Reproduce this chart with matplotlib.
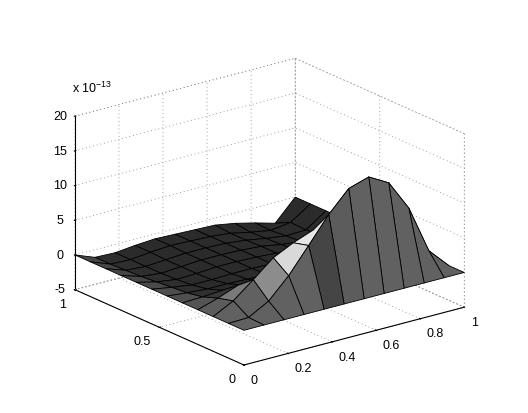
import numpy as np
import matplotlib
matplotlib.use("Agg")
import matplotlib.pyplot as plt

plt.rcParams['font.family'] = ['Liberation Sans', 'DejaVu Sans']
plt.rcParams['mathtext.fontset'] = 'custom'
plt.rcParams['mathtext.rm'] = 'Liberation Sans'
plt.rcParams['mathtext.default'] = 'rm'

x_nodes = [i / 11 for i in range(12)]
y_nodes = [j / 11 for j in range(12)]
# height (units of 1e-13); rows are x index, columns are y index
heights = [
 [0,0,0,0,0,0,0,0,0,0,0,0],
 [0,0.1,1.5,0.9,0.1,-0.3,-0.5,-0.7,-0.9,-1.0,-1.1,-1.1],
 [0,1.7,3.8,2.0,0.3,-0.5,-0.9,-1.1,-1.2,-1.2,-1.2,-1.2],
 [0,4.6,6.2,2.2,0.3,-0.5,-0.9,-1.0,-1.0,-1.0,-0.9,-0.9],
 [0,8.2,7.6,1.5,0.1,-0.6,-0.8,-0.8,-0.8,-0.8,-0.7,-0.7],
 [0,11.9,8.7,1.0,-0.2,-0.7,-0.8,-0.8,-0.8,-0.8,-0.8,-0.8],
 [0,14.9,8.0,0.8,-0.4,-0.8,-0.9,-0.9,-0.9,-0.9,-0.9,-0.9],
 [0,15.8,7.0,0.6,-0.6,-1.0,-1.1,-1.1,-1.1,-1.2,-1.2,-1.0],
 [0,14.2,5.0,0.4,-0.8,-1.2,-1.4,-1.5,-1.6,-1.7,-1.8,-1.5],
 [0,9.8,3.0,0.2,-0.8,-1.2,-1.5,-1.7,-1.9,-2.1,-2.3,-2.2],
 [0,2.9,1.0,0.0,-0.6,-1.0,-1.3,-1.5,-1.7,-2.0,-1.9,-3.0],
 [0,0,0,0,0,0,0,0,0,0,0,0],
]
# gray level of each facet, rows x index, columns y index
face_gray = [
 [.38,.38,.36,.33,.31,.30,.29,.28,.27,.27,.27],
 [.38,.38,.48,.22,.19,.18,.18,.18,.18,.18,.18],
 [.38,.55,.24,.18,.17,.17,.17,.17,.17,.17,.17],
 [.38,.85,.22,.17,.17,.17,.17,.17,.17,.17,.17],
 [.27,.90,.20,.17,.17,.17,.17,.17,.17,.17,.17],
 [.36,.20,.17,.17,.17,.17,.17,.17,.17,.17,.17],
 [.38,.18,.17,.17,.17,.17,.17,.17,.17,.17,.17],
 [.38,.18,.17,.17,.17,.17,.17,.17,.17,.17,.17],
 [.38,.18,.17,.17,.17,.17,.17,.17,.17,.17,.17],
 [.38,.18,.17,.17,.17,.17,.17,.17,.17,.17,.17],
 [.38,.18,.17,.17,.17,.17,.17,.17,.17,.17,.17],
]
z_ticks = [-5, 0, 5, 10, 15, 20]
xy_ticks_x = [0, 0.2, 0.4, 0.6, 0.8, 1]
xy_ticks_y = [0, 0.5, 1]

fig = plt.figure(figsize=(5.28, 4.13), dpi=100)
ax = fig.add_axes([0, -0.026, 1, 1], projection='3d', proj_type='ortho')
ax.view_init(elev=20, azim=-127.5)
ax.set_box_aspect((1, 1, 0.665), zoom=1.02)
ax.set_xlim(0, 1); ax.set_ylim(0, 1); ax.set_zlim(-5, 20)

X, Y = np.meshgrid(x_nodes, y_nodes, indexing='ij')
Z = np.array(heights, float)

g = np.array(face_gray)
g = np.pad(g, ((0, 1), (0, 1)), mode='edge')
colors = np.dstack([g, g, g, np.ones_like(g)])
ax.plot_surface(X, Y, Z, facecolors=colors, edgecolor='black', linewidth=0.6, shade=False,
                rstride=1, cstride=1, antialiased=True)

grid_color = '#808080'
for a in (ax.xaxis, ax.yaxis, ax.zaxis):
    a.set_pane_color((1, 1, 1, 0))
    a.pane.set_edgecolor('none')
    a._axinfo['grid'].update(color=grid_color, linewidth=0.6, linestyle=(0, (1, 3.5)))
    a._axinfo['tick'].update(inward_factor=0.03, outward_factor=0.05)
    a.line.set_linewidth(0.8)

# dotted box edges at the back of the frame
for xs, ys, zs in [([0, 1], [1, 1], [20, 20]), ([1, 1], [1, 0], [20, 20]), ([1, 1], [1, 1], [-5, 20]),
                   ([1, 1], [0, 0], [-5, 20]), ([0, 1], [1, 1], [-5, -5]), ([1, 1], [1, 0], [-5, -5])]:
    ax.plot(xs, ys, zs, color=grid_color, lw=0.6, ls=(0, (1, 3.5)))

ax.set_xticks(xy_ticks_x); ax.set_xticklabels(['0', '0.2', '0.4', '0.6', '0.8', '1'], ha='left')
ax.set_yticks(xy_ticks_y); ax.set_yticklabels(['0', '0.5', '1'], ha='right')
ax.set_zticks(z_ticks); ax.set_zticklabels([str(t) for t in z_ticks], va='center_baseline')
ax.tick_params(labelsize=9, pad=-2)
ax.tick_params(axis='z', pad=-2)
ax.text2D(72 / 528, 1 - 88 / 413, r'x 10$^{-13}$', transform=fig.transFigure, fontsize=9, va='center')

fig.savefig('out.png', dpi=100)
